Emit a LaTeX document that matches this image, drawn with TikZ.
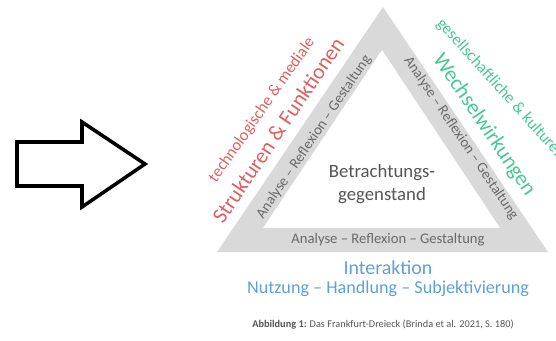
\documentclass[tikz,border=0pt]{standalone}
\usepackage{fontspec}
\setmainfont{Carlito}
\definecolor{bandgray}{RGB}{217,217,217}
\definecolor{bandtext}{RGB}{105,105,105}
\definecolor{maintext}{RGB}{85,85,85}
\definecolor{techred}{RGB}{222,95,95}
\definecolor{socgreen}{RGB}{70,200,150}
\definecolor{interblue}{RGB}{95,160,215}
\tikzset{
	band/.style={text=bandtext,font=\fontsize{12.5}{14}\selectfont,inner sep=0pt},
	sidesmall/.style={font=\fontsize{14}{16}\selectfont,inner sep=0pt},
	sidebig/.style={font=\fontsize{18.5}{20}\selectfont,inner sep=0pt}
}
\begin{document}
\begin{tikzpicture}[x=0.03cm,y=-0.03cm]
		\clip (0,0) rectangle (556,341);
		
		% block arrow
		\draw[line width=3pt,line join=miter] (17,142) -- (82,142) -- (82,122) -- (145,164) -- (82,207) -- (82,186) -- (17,186) -- cycle;
		
		% triangle
		\coordinate (oL) at (217,252);
		\coordinate (oR) at (548,252);
		\coordinate (oT) at (383,7);
		\coordinate (iL) at (263,228);
		\coordinate (iR) at (500,228);
		\coordinate (iT) at (382,50);
		\fill[bandgray] (oL) -- (oR) -- (oT) -- cycle;
		\fill[white] (iL) -- (iR) -- (iT) -- cycle;
		
		\node[band] (bandB) at (388,240) {Analyse – Reflexion – Gestaltung};
		\node[band,rotate=56] (bandL) at (314,137) {Analyse – Reflexion – Gestaltung};
		\node[band,rotate=-56] (bandR) at (461,138) {Analyse – Reflexion – Gestaltung};
		
		\node[text=maintext,font=\fontsize{16}{20}\selectfont,align=center] (obj) at (382,184) {Betrachtungs-\\gegenstand};
		
		% sides
		\node[sidesmall,text=techred,rotate=55] (tech) at (262,110) {technologische \& mediale};
		\node[sidebig,text=techred,rotate=56] (struk) at (278,130) {Strukturen \& Funktionen};
		\node[sidesmall,text=socgreen,rotate=-48] (gesell) at (503,92) {gesellschaftliche \& kulturelle};
		\node[sidebig,text=socgreen,rotate=-56] (wechsel) at (484,125) {Wechselwirkungen};
		
		% bottom
		\node[text=interblue,font=\fontsize{17}{20}\selectfont,inner sep=0pt] (inter) at (388,268) {Interaktion};
		\node[text=interblue,font=\fontsize{15.5}{18}\selectfont,inner sep=0pt] (nutz) at (388,289) {Nutzung – Handlung – Subjektivierung};
		
		\node[text=maintext,font=\fontsize{8.8}{10}\selectfont,inner sep=0pt] (caption) at (383,325) {\textbf{Abbildung 1:} Das Frankfurt-Dreieck (Brinda et al. 2021, S. 180)};
		
		\end{tikzpicture}
\end{document}
